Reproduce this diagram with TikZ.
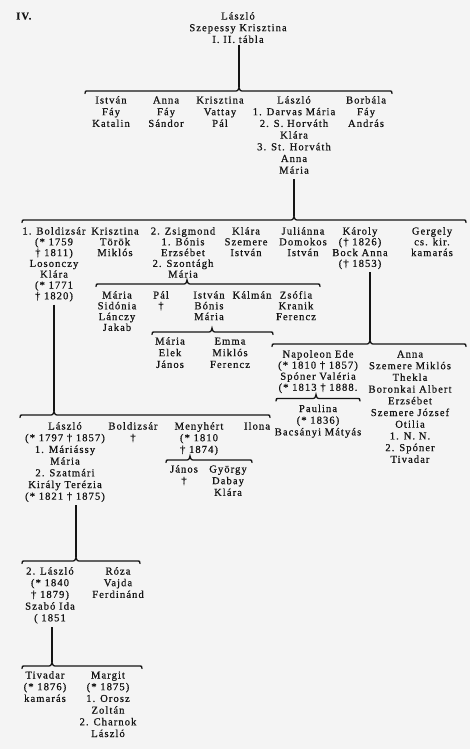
\documentclass[tikz,border=0pt]{standalone}
\usepackage{fontspec}
\setmainfont{Liberation Serif}[LetterSpace=10,FakeBold=0.6]
\definecolor{paper}{RGB}{244,244,244}
\definecolor{ink}{RGB}{20,20,20}
\newcommand\gtb[1]{\begin{tabular}[t]{@{}c@{}}#1\end{tabular}}
\newcommand\fambrace[4]{% y, x-left, x-right, x-tip
  \draw[bracel] (#2,#1+2.5) .. controls (#2,#1) .. (#2+4,#1) -- (#4-5,#1)
    .. controls (#4-1,#1) .. (#4,#1-4) .. controls (#4+1,#1) .. (#4+5,#1)
    -- (#3-4,#1) .. controls (#3,#1) .. (#3,#1+2.5);}
\begin{document}
\begin{tikzpicture}[x=1pt,y=-1pt,
  person/.style={anchor=base,inner sep=0pt,text=ink,font=\fontsize{10.6}{11.7}\selectfont},
  tight/.style={font=\fontsize{10.6}{10.8}\selectfont},
  bracel/.style={draw=ink,line width=1.3pt,line cap=round},
  conn/.style={draw=ink,line width=1.5pt}]
\fill[paper] (0,0) rectangle (470,749);
\useasboundingbox (0,0) rectangle (470,749);

\node[person,anchor=base west,font=\fontsize{10.6}{11.5}\selectfont\bfseries] (hdr) at (16,19.5) {IV.};

% generation 1
\node[person] (top) at (238,19.5) {\gtb{László\\Szepessy Krisztina\\I. II. tábla}};
\fambrace{91}{85}{392}{239}
\coordinate (b1) at (239,87);
\draw[conn] ([yshift=2pt]top.south -| b1) -- (b1);

% generation 2
\node[person] (istvan) at (111,103.5) {\gtb{István\\Fáy\\Katalin}};
\node[person] (anna) at (166,103.5) {\gtb{Anna\\Fáy\\Sándor}};
\node[person] (krisz) at (220,103.5) {\gtb{Krisztina\\Vattay\\Pál}};
\node[person] (laszlo2) at (294,103.5) {\gtb{László\\1. Darvas Mária\\2. S. Horváth\\Klára\\3. St. Horváth\\Anna\\Mária}};
\node[person] (borbala) at (366,103.5) {\gtb{Borbála\\Fáy\\András}};
\fambrace{220}{22}{466}{294}
\coordinate (b2) at (294,216);
\draw[conn] ([yshift=-2pt]laszlo2.south -| b2) -- (b2);

% generation 3
\node[person,tight] (boldizsar) at (54,234.5) {\gtb{1. Boldizsár\\(* 1759\\† 1811)\\Losonczy\\Klára\\(* 1771\\† 1820)}};
\node[person,tight] (krisz3) at (115,234.5) {\gtb{Krisztina\\Török\\Miklós}};
\node[person,tight] (zsigmond) at (183,234.5) {\gtb{2. Zsigmond\\1. Bónis\\Erzsébet\\2. Szontágh\\Mária}};
\node[person,tight] (klara3) at (246,234.5) {\gtb{Klára\\Szemere\\István}};
\node[person,tight] (julianna) at (303,234.5) {\gtb{Juliánna\\Domokos\\István}};
\node[person,tight] (karoly) at (360,234.5) {\gtb{Károly\\(† 1826)\\Bock Anna\\(† 1853)}};
\node[person,tight] (gergely) at (432,234.5) {\gtb{Gergely\\cs. kir.\\kamarás}};

% Zsigmond's children
\fambrace{284}{96}{320}{187}
\node[person,tight] (mariasid) at (117,298.5) {\gtb{Mária\\Sidónia\\Lánczy\\Jakab}};
\node[person,tight] (pal) at (161,298.5) {\gtb{Pál\\†}};
\node[person,tight] (istvan4) at (209,298.5) {\gtb{István\\Bónis\\Mária}};
\node[person,tight] (kalman) at (252,298.5) {\gtb{Kálmán}};
\node[person,tight] (zsofia) at (296,298.5) {\gtb{Zsófia\\Kranik\\Ferencz}};

% István's children
\fambrace{332}{152}{273}{212}
\node[person] (mariaelek) at (170,344.5) {\gtb{Mária\\Elek\\János}};
\node[person] (emma) at (230,344.5) {\gtb{Emma\\Miklós\\Ferencz}};

% Károly's children
\fambrace{344}{272}{466}{370}
\coordinate (bk) at (370,340);
\draw[conn] ([yshift=-2pt]karoly.south -| bk) -- (bk);
\node[person,font=\fontsize{10.6}{11.1}\selectfont] (napoleon) at (318,357.5) {\gtb{Napoleon Ede\\(* 1810 † 1857)\\Spóner Valéria\\(* 1813 † 1888.}};
\node[person] (anna5) at (410,357.5) {\gtb{Anna\\Szemere Miklós\\Thekla\\Boronkai Albert\\Erzsébet\\Szemere József\\Otilia\\1. N. N.\\2. Spóner\\Tivadar}};
\fambrace{398.5}{276}{360}{316}
\node[person] (paulina) at (318,412) {\gtb{Paulina\\(* 1836)\\Bacsányi Mátyás}};

% Boldizsár's children
\fambrace{415}{20}{270}{54}
\coordinate (bb) at (54,411);
\draw[conn] ([yshift=-2pt]boldizsar.south -| bb) -- (bb);
\node[person] (laszlo5) at (65,429.5) {\gtb{László\\(* 1797 † 1857)\\1. Máriássy\\Mária\\2. Szatmári\\Király Terézia\\(* 1821 † 1875)}};
\node[person] (boldizsar5) at (133,429.5) {\gtb{Boldizsár\\†}};
\node[person] (menyhert) at (199,429.5) {\gtb{Menyhért\\(* 1810\\† 1874)}};
\node[person] (ilona) at (257,429.5) {\gtb{Ilona}};

% Menyhért's children
\fambrace{460}{166}{252}{190}
\node[person] (janos) at (184,472.5) {\gtb{János\\†}};
\node[person] (gyorgy) at (228,472.5) {\gtb{György\\Dabay\\Klára}};

% László's children
\fambrace{561}{22}{140}{76}
\coordinate (bl) at (76,557);
\draw[conn] ([yshift=-2pt]laszlo5.south -| bl) -- (bl);
\node[person] (laszlo6) at (50,574.5) {\gtb{2. László\\(* 1840\\† 1879)\\Szabó Ida\\( 1851}};
\node[person] (roza) at (118,574.5) {\gtb{Róza\\Vajda\\Ferdinánd}};

% 2. László's children
\fambrace{666}{22}{142}{52}
\coordinate (bt) at (52,662);
\draw[conn] ([yshift=-2pt]laszlo6.south -| bt) -- (bt);
\node[person] (tivadar) at (45,678.5) {\gtb{Tivadar\\(* 1876)\\kamarás}};
\node[person] (margit) at (108,678.5) {\gtb{Margit\\(* 1875)\\1. Orosz\\Zoltán\\2. Charnok\\László}};
\end{tikzpicture}
\end{document}
